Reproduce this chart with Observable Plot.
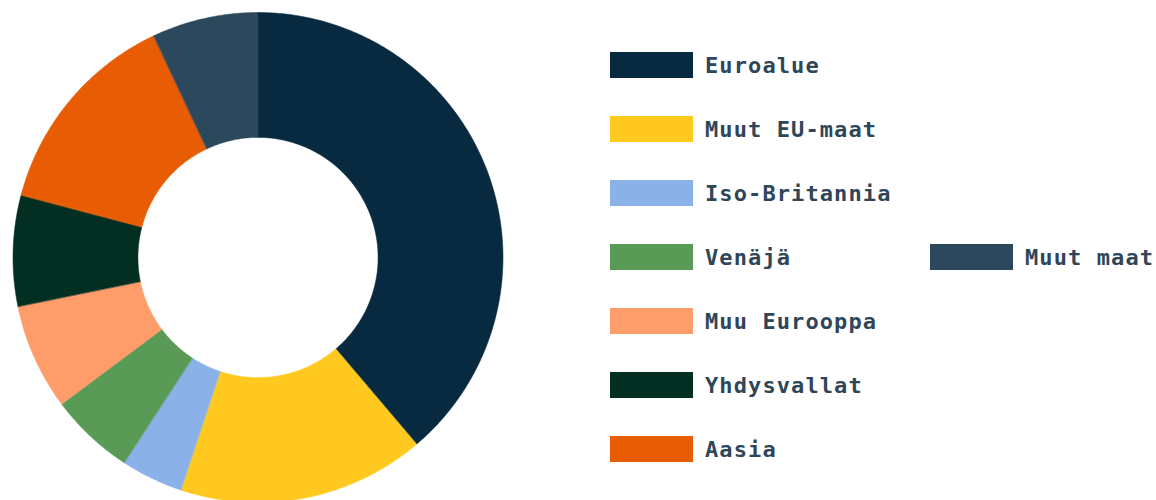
<!DOCTYPE html>
<html>
<head>
<meta charset="utf-8">
<script src="https://cdn.jsdelivr.net/npm/d3@7"></script>
<script src="https://cdn.jsdelivr.net/npm/@observablehq/plot@0.6"></script>
<style>
  html, body { margin: 0; padding: 0; background: #fff; }
  #wrap { position: relative; width: 1156px; height: 500px; overflow: hidden; }
  #chart { position: absolute; left: 0; top: 0; }
  .item { position: absolute; display: flex; align-items: center; height: 26px; }
  .sw { width: 83px; height: 26px; margin-right: 12px; }
  .lab { font-family: "DejaVu Sans Mono", monospace; font-weight: bold; font-size: 22px; letter-spacing: 1.1px; color: #2f4658; white-space: nowrap; }
</style>
</head>
<body>
<div id="wrap"><div id="chart"></div></div>
<script>
const categories = ["Euroalue", "Muut EU-maat", "Iso-Britannia", "Venäjä", "Muu Eurooppa", "Yhdysvallat", "Aasia", "Muut maat"];
const shares = [38.8, 16.3, 4.1, 5.6, 7.0, 7.3, 13.9, 7.0];
const colors = ["#072a40", "#ffc91f", "#8ab2e8", "#5a9a57", "#fe9c6a", "#022f22", "#e85d04", "#2c485c"];

const innerRatio = 0.49;
const pie = d3.pie().sort(null).value(d => d.value);
const arcs = pie(categories.map((c, i) => ({ name: c, value: shares[i] })));

// build polygon outlines in data space (unit circle)
const pts = [];
arcs.forEach(a => {
  const n = Math.max(4, Math.ceil((a.endAngle - a.startAngle) / (Math.PI / 360)));
  for (let k = 0; k <= n; k++) {
    const t = a.startAngle + (a.endAngle - a.startAngle) * k / n;
    pts.push({ name: a.data.name, x: Math.sin(t), y: Math.cos(t) });
  }
  for (let k = n; k >= 0; k--) {
    const t = a.startAngle + (a.endAngle - a.startAngle) * k / n;
    pts.push({ name: a.data.name, x: innerRatio * Math.sin(t), y: innerRatio * Math.cos(t) });
  }
});

const chart = Plot.plot({
  width: 520,
  height: 500,
  margin: 0,
  x: { domain: [-1, 1], range: [12.5, 502.5], axis: null },
  y: { domain: [-1, 1], range: [502, 12], axis: null },
  color: { domain: categories, range: colors },
  marks: [
    Plot.line(pts, { x: "x", y: "y", z: "name", fill: "name", stroke: "name", strokeWidth: 0.5, curve: "linear-closed" })
  ]
});
document.getElementById("chart").appendChild(chart);

// legend (HTML)
const wrap = document.getElementById("wrap");
categories.forEach((c, i) => {
  const el = document.createElement("div");
  el.className = "item";
  let left = 610, top = 52 + 64 * i;
  if (i === 7) { left = 930; top = 52 + 64 * 3; }
  el.style.left = left + "px";
  el.style.top = top + "px";
  el.innerHTML = `<div class="sw" style="background:${colors[i]}"></div><span class="lab">${c}</span>`;
  wrap.appendChild(el);
});
</script>
</body>
</html>
